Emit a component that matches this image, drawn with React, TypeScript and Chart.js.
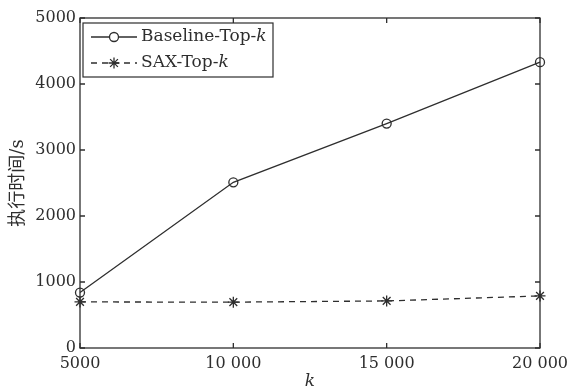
import React, { useEffect, useRef } from "react";
import { Chart, registerables } from "chart.js";

Chart.register(...registerables);

const kValues = [5000, 10000, 15000, 20000];
const xTickLabels = ["5000", "10 000", "15 000", "20 000"];
const yTickValues = [0, 1000, 2000, 3000, 4000, 5000];
const yTickLabels = ["0", "1000", "2000", "3000", "4000", "5000"];
const baselineTopK = [840, 2510, 3400, 4330];
const saxTopK = [698, 695, 713, 789];
const seriesNames = ["Baseline-Top-", "SAX-Top-"];
const yAxisTitle = "执行时间/s";
const xAxisTitle = "k";

const INK = "#2e2e2e";
const SERIF = '"DejaVu Serif", "Liberation Serif", serif';

const boxPlugin = {
  id: "boxTicks",
  beforeDatasetsDraw(chart: any) {
    const { ctx, chartArea: a, scales } = chart;
    ctx.save();
    ctx.strokeStyle = INK;
    ctx.lineWidth = 1.3;
    ctx.strokeRect(a.left, a.top, a.right - a.left, a.bottom - a.top);
    const len = 5;
    ctx.beginPath();
    scales.x.ticks.forEach((t: any) => {
      const px = scales.x.getPixelForValue(t.value);
      ctx.moveTo(px, a.bottom);
      ctx.lineTo(px, a.bottom - len);
      ctx.moveTo(px, a.top);
      ctx.lineTo(px, a.top + len);
    });
    scales.y.ticks.forEach((t: any) => {
      const py = scales.y.getPixelForValue(t.value);
      ctx.moveTo(a.left, py);
      ctx.lineTo(a.left + len, py);
      ctx.moveTo(a.right, py);
      ctx.lineTo(a.right - len, py);
    });
    ctx.stroke();
    ctx.restore();
  },
};

function drawStar(ctx: CanvasRenderingContext2D, x: number, y: number, r: number) {
  ctx.beginPath();
  for (let i = 0; i < 4; i++) {
    const ang = (i * Math.PI) / 4;
    ctx.moveTo(x - Math.cos(ang) * r, y - Math.sin(ang) * r);
    ctx.lineTo(x + Math.cos(ang) * r, y + Math.sin(ang) * r);
  }
  ctx.stroke();
}

const legendPlugin = {
  id: "customLegend",
  afterDraw(chart: any) {
    const { ctx, chartArea: a } = chart;
    const bx = a.left + 3;
    const by = a.top + 5;
    const bw = 190;
    const bh = 54;
    ctx.save();
    ctx.fillStyle = "#ffffff";
    ctx.fillRect(bx, by, bw, bh);
    ctx.strokeStyle = INK;
    ctx.lineWidth = 1.2;
    ctx.strokeRect(bx, by, bw, bh);

    const rows = [by + 14, by + 40];
    const x0 = bx + 8;
    const x1 = bx + 54;
    const xm = (x0 + x1) / 2;
    ctx.lineWidth = 1.3;

    ctx.setLineDash([]);
    ctx.beginPath();
    ctx.moveTo(x0, rows[0]);
    ctx.lineTo(x1, rows[0]);
    ctx.stroke();
    ctx.beginPath();
    ctx.arc(xm, rows[0], 4.5, 0, Math.PI * 2);
    ctx.fillStyle = "#ffffff";
    ctx.fill();
    ctx.stroke();

    ctx.setLineDash([6, 5]);
    ctx.beginPath();
    ctx.moveTo(x0, rows[1]);
    ctx.lineTo(x1, rows[1]);
    ctx.stroke();
    ctx.setLineDash([]);
    drawStar(ctx, xm, rows[1], 5.5);

    ctx.fillStyle = INK;
    ctx.textBaseline = "middle";
    ctx.textAlign = "left";
    seriesNames.forEach((name, i) => {
      ctx.font = `17px ${SERIF}`;
      const tx = bx + 58;
      ctx.fillText(name, tx, rows[i]);
      const w = ctx.measureText(name).width;
      ctx.font = `italic 17px ${SERIF}`;
      ctx.fillText("k", tx + w, rows[i]);
    });
    ctx.restore();
  },
};

export default function App() {
  const ref = useRef<HTMLCanvasElement | null>(null);

  useEffect(() => {
    if (!ref.current) return;
    const chart = new Chart(ref.current, {
      type: "line",
      data: {
        datasets: [
          {
            label: seriesNames[0] + "k",
            data: kValues.map((k, i) => ({ x: k, y: baselineTopK[i] })),
            borderColor: INK,
            borderWidth: 1.3,
            pointStyle: "circle",
            pointRadius: 4.5,
            pointBorderWidth: 1.3,
            pointBackgroundColor: "rgba(255,255,255,0)",
            pointBorderColor: INK,
            tension: 0,
            clip: false,
          } as any,
          {
            label: seriesNames[1] + "k",
            data: kValues.map((k, i) => ({ x: k, y: saxTopK[i] })),
            borderColor: INK,
            borderWidth: 1.3,
            borderDash: [6, 5],
            pointStyle: "star",
            pointRadius: 5.5,
            pointBorderWidth: 1.3,
            pointBackgroundColor: INK,
            pointBorderColor: INK,
            tension: 0,
            clip: false,
          } as any,
        ],
      },
      options: {
        animation: false,
        responsive: false,
        maintainAspectRatio: false,
        layout: { padding: { left: 0, right: 28, top: 18, bottom: 0 } },
        plugins: {
          legend: { display: false },
          tooltip: { enabled: false },
        },
        scales: {
          x: {
            type: "linear",
            min: kValues[0],
            max: kValues[kValues.length - 1],
            grid: { display: false, drawTicks: false },
            border: { display: false },
            ticks: {
              stepSize: 5000,
              padding: 6,
              color: INK,
              font: { family: SERIF, size: 16 },
              maxRotation: 0,
              autoSkip: false,
              callback: (v: any) => {
                const idx = kValues.indexOf(Number(v));
                return idx >= 0 ? xTickLabels[idx] : "";
              },
            },
            title: {
              display: true,
              text: xAxisTitle,
              color: INK,
              font: { family: SERIF, size: 17, style: "italic", lineHeight: 1 },
              padding: { top: 0, bottom: -1 },
            },
            afterFit: (s: any) => {
              s.height = 41;
              s.paddingLeft = 0;
              s.paddingRight = 0;
            },
          },
          y: {
            type: "linear",
            min: 0,
            max: 5000,
            grid: { display: false, drawTicks: false },
            border: { display: false },
            ticks: {
              stepSize: 1000,
              padding: 4,
              color: INK,
              font: { family: SERIF, size: 16 },
              callback: (v: any) => {
                const idx = yTickValues.indexOf(Number(v));
                return idx >= 0 ? yTickLabels[idx] : "";
              },
            },
            title: {
              display: true,
              text: yAxisTitle,
              color: INK,
              font: { family: '"DejaVu Serif", "Noto Sans CJK SC", serif', size: 18, lineHeight: 1 },
              padding: { top: 9, bottom: 0 },
            },
            afterFit: (s: any) => {
              s.width = 80;
              s.paddingTop = 0;
              s.paddingBottom = 0;
            },
          },
        },
      } as any,
      plugins: [boxPlugin, legendPlugin],
    });
    return () => chart.destroy();
  }, []);

  return (
    <div style={{ position: "fixed", left: 0, top: 0, width: 568, height: 389, background: "#ffffff" }}>
      <canvas ref={ref} width={568} height={389} style={{ width: 568, height: 389, display: "block" }} />
    </div>
  );
}
